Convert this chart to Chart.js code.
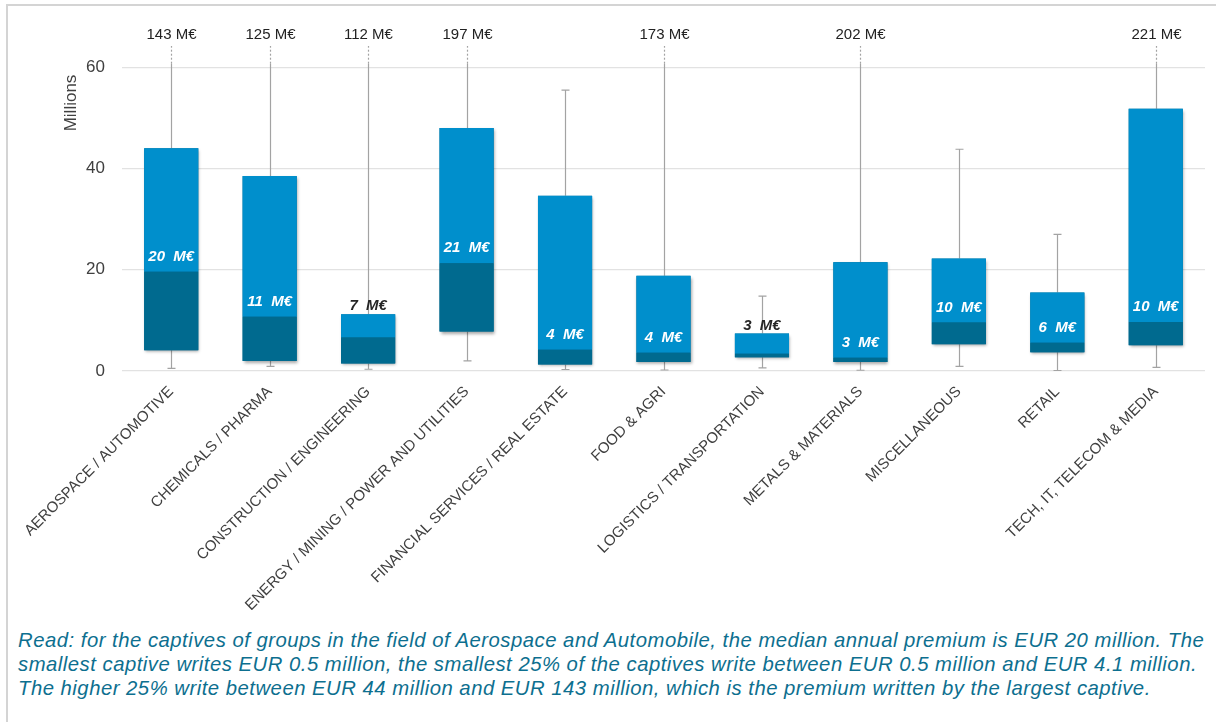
<!DOCTYPE html>
<html>
<head>
<meta charset="utf-8">
<script src="https://cdn.jsdelivr.net/npm/chart.js@4"></script>
<style>
  html, body { margin: 0; padding: 0; background: #ffffff; }
  body { width: 1216px; height: 722px; position: relative; overflow: hidden; font-family: "Liberation Sans", Arial, sans-serif; }
  .frame { position: absolute; left: 6px; top: 4px; width: 1230px; height: 760px; border-left: 2px solid #d4d4d4; border-top: 2px solid #d4d4d4; }
  .chart-box { position: absolute; left: 0; top: 0; width: 1216px; height: 610px; }
  .note { position: absolute; left: 18px; top: 628px; margin: 0; white-space: nowrap; font-style: italic; font-size: 20.3px; letter-spacing: 0.5px; line-height: 24px; color: #0d6f8f; }
</style>
</head>
<body>
<div class="frame"></div>
<div class="chart-box"><canvas id="boxChart"></canvas></div>
<p class="note">Read: for the captives of groups in the field of Aerospace and Automobile, the median annual premium is EUR 20 million. The<br>smallest captive writes EUR 0.5 million, the smallest 25% of the captives write between EUR 0.5 million and EUR 4.1 million.<br>The higher 25% write between EUR 44 million and EUR 143 million, which is the premium written by the largest captive.</p>

<script>
// Sectors (x axis)
const categories = [
  'AEROSPACE / AUTOMOTIVE',
  'CHEMICALS / PHARMA',
  'CONSTRUCTION / ENGINEERING',
  'ENERGY / MINING / POWER AND UTILITIES',
  'FINANCIAL SERVICES / REAL ESTATE',
  'FOOD & AGRI',
  'LOGISTICS / TRANSPORTATION',
  'METALS & MATERIALS',
  'MISCELLANEOUS',
  'RETAIL',
  'TECH, IT, TELECOM & MEDIA',
];

// Box plot values, in millions of euros
const minValues = [0.5, 0.9, 0.35, 2.0, 0.3, 0.2, 0.6, 0.15, 0.9, 0.1, 0.7];
const q1Values = [4.1, 2.0, 1.5, 7.8, 1.3, 1.8, 2.7, 1.8, 5.3, 3.7, 5.1];
const medianValues = [19.6, 10.7, 6.6, 21.3, 4.2, 3.6, 3.4, 2.6, 9.6, 5.6, 9.7];
const q3Values = [44, 38.5, 11.2, 48, 34.6, 18.8, 7.4, 21.5, 22.2, 15.5, 51.8];
const maxValues = [143, 125, 112, 197, 55.5, 173, 14.8, 202, 43.8, 27, 221];

// Y axis
const yTicks = [0, 20, 40, 60];
const yMax = 64;
const yTitle = 'Millions';

const lightBlue = '#008fcc';
const darkBlue = '#006a8f';
const whiskerColor = '#a3a3a3';

// Whiskers, shadows and value labels are drawn around the bars
const boxPlotPlugin = {
  id: 'boxPlot',
  beforeDatasetsDraw(chart) {
    const { ctx, chartArea, scales: { x, y } } = chart;
    const half = chart.getDatasetMeta(0).data[0].width / 2;

    ctx.save();
    ctx.strokeStyle = whiskerColor;
    ctx.lineWidth = 1.2;
    categories.forEach((_, i) => {
      const cx = Math.round(x.getPixelForValue(i)) + 0.5;
      // lower whisker
      const yMin = y.getPixelForValue(minValues[i]);
      ctx.beginPath();
      ctx.moveTo(cx, y.getPixelForValue(q1Values[i]));
      ctx.lineTo(cx, yMin);
      ctx.moveTo(cx - 4, yMin);
      ctx.lineTo(cx + 4, yMin);
      ctx.stroke();

      // upper whisker
      const yQ3 = y.getPixelForValue(q3Values[i]);
      if (maxValues[i] <= yMax) {
        const yTop = y.getPixelForValue(maxValues[i]);
        ctx.beginPath();
        ctx.moveTo(cx, yQ3);
        ctx.lineTo(cx, yTop);
        ctx.moveTo(cx - 4, yTop);
        ctx.lineTo(cx + 4, yTop);
        ctx.stroke();
      } else {
        // off the scale: cut the whisker and write the maximum above
        const yCut = y.getPixelForValue(60.7);
        ctx.beginPath();
        ctx.moveTo(cx, yQ3);
        ctx.lineTo(cx, yCut);
        ctx.stroke();
        ctx.setLineDash([2, 2]);
        ctx.beginPath();
        ctx.moveTo(cx, yCut);
        ctx.lineTo(cx, chartArea.top - 1);
        ctx.stroke();
        ctx.setLineDash([]);

        ctx.fillStyle = '#222222';
        ctx.font = '15px "Liberation Sans", Arial, sans-serif';
        ctx.textAlign = 'center';
        ctx.textBaseline = 'middle';
        ctx.fillText(maxValues[i] + ' M€', cx, chartArea.top - 12);
      }

      // box shadow
      ctx.save();
      ctx.shadowColor = 'rgba(0, 0, 0, 0.35)';
      ctx.shadowBlur = 3;
      ctx.shadowOffsetX = 1;
      ctx.shadowOffsetY = 2;
      ctx.fillStyle = darkBlue;
      const top = y.getPixelForValue(q3Values[i]);
      const bottom = y.getPixelForValue(q1Values[i]);
      ctx.fillRect(x.getPixelForValue(i) - half, top, half * 2, bottom - top);
      ctx.restore();
    });

    // y axis title
    ctx.fillStyle = '#404040';
    ctx.font = '17px "Liberation Sans", Arial, sans-serif';
    ctx.textAlign = 'center';
    ctx.textBaseline = 'middle';
    ctx.translate(chartArea.left - 51, chartArea.top + 56);
    ctx.rotate(-Math.PI / 2);
    ctx.fillText(yTitle, 0, 0);
    ctx.restore();
  },
  afterDatasetsDraw(chart) {
    const { ctx, scales: { x, y } } = chart;
    ctx.save();
    ctx.font = 'italic bold 15px "Liberation Sans", Arial, sans-serif';
    ctx.textAlign = 'center';
    ctx.textBaseline = 'middle';
    categories.forEach((_, i) => {
      const cx = x.getPixelForValue(i);
      const yMed = y.getPixelForValue(medianValues[i]);
      const yQ3 = y.getPixelForValue(q3Values[i]);
      const text = Math.round(medianValues[i]) + '  M€';
      if (yMed - yQ3 >= 30) {
        ctx.fillStyle = '#ffffff';
        ctx.fillText(text, cx, yMed - 15);
      } else {
        ctx.fillStyle = '#262626';
        ctx.fillText(text, cx, yQ3 - 8);
      }
    });
    ctx.restore();
  },
};

const ctx = document.getElementById('boxChart');

new Chart(ctx, {
  type: 'bar',
  data: {
    labels: categories,
    datasets: [
      {
        label: 'Q1 - median',
        data: categories.map((_, i) => [q1Values[i], medianValues[i]]),
        backgroundColor: darkBlue,
        grouped: false,
      },
      {
        label: 'median - Q3',
        data: categories.map((_, i) => [medianValues[i], q3Values[i]]),
        backgroundColor: lightBlue,
        grouped: false,
      },
    ],
  },
  options: {
    responsive: true,
    maintainAspectRatio: false,
    animation: false,
    barPercentage: 0.55,
    categoryPercentage: 1,
    layout: { padding: { top: 47, right: 11, left: 0, bottom: 0 } },
    plugins: {
      legend: { display: false },
      tooltip: { enabled: false },
    },
    scales: {
      x: {
        grid: { display: false },
        border: { display: false },
        ticks: {
          color: '#404040',
          font: { family: '"Liberation Sans", Arial, sans-serif', size: 15 },
          minRotation: 45,
          maxRotation: 45,
          autoSkip: false,
          padding: 4,
        },
        afterFit(scale) { scale.height = 239; },
      },
      y: {
        min: 0,
        max: yMax,
        grid: { color: '#e2e2e2', lineWidth: 1.3, drawTicks: false },
        border: { display: false },
        ticks: {
          stepSize: 20,
          includeBounds: false,
          color: '#404040',
          padding: 17,
          font: { family: '"Liberation Sans", Arial, sans-serif', size: 17 },
        },
        afterBuildTicks(scale) { scale.ticks = yTicks.map((v) => ({ value: v })); },
        afterFit(scale) { scale.width = 122; },
      },
    },
  },
  plugins: [boxPlotPlugin],
});
</script>
</body>
</html>
